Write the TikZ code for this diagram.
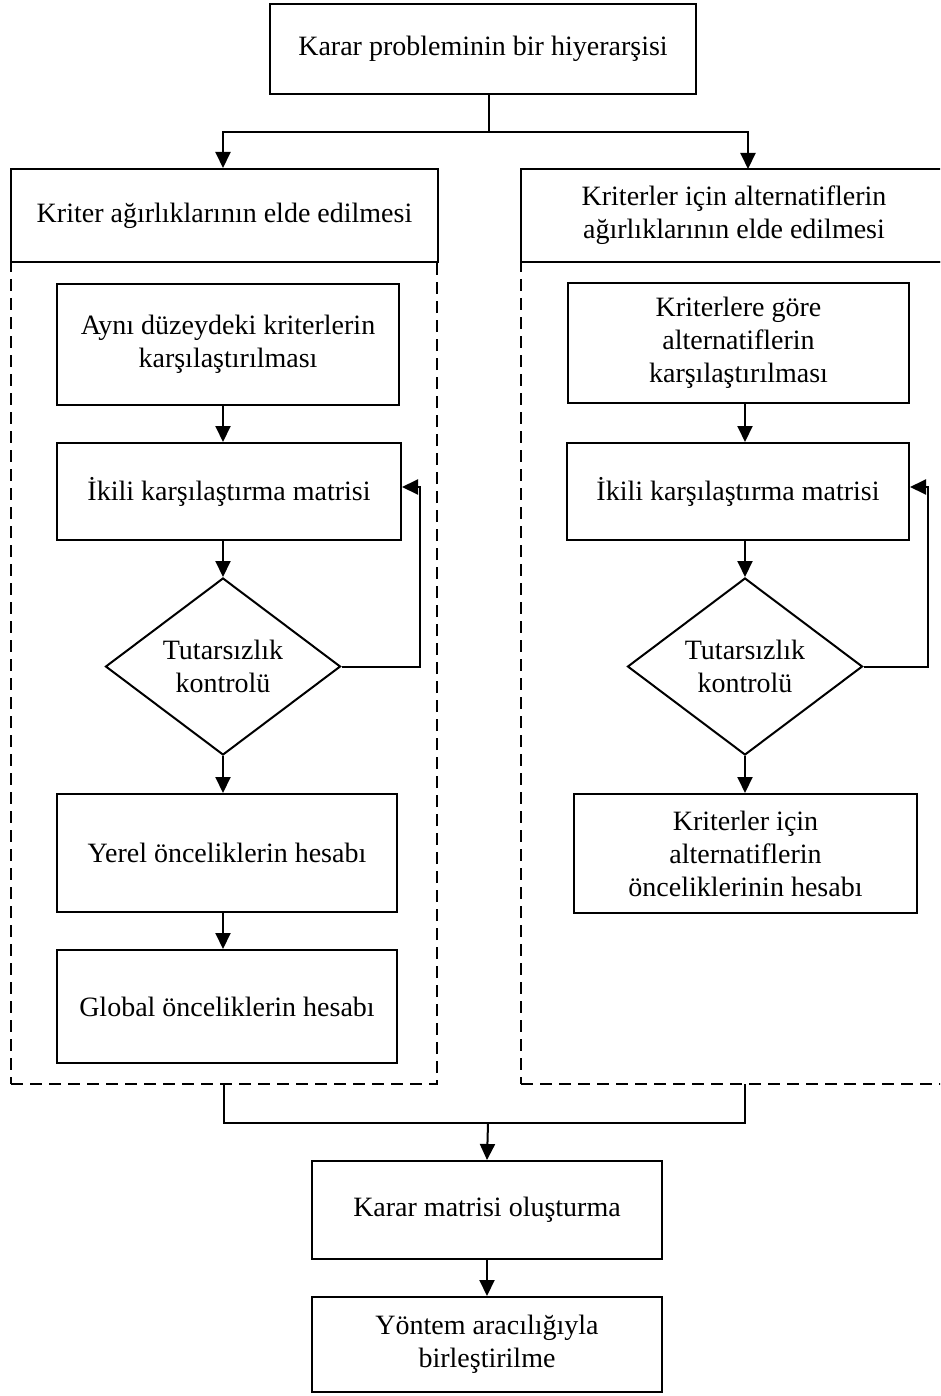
\documentclass[tikz,border=0pt]{standalone}
\usepackage{fontspec}
\setmainfont{Liberation Serif}
\usetikzlibrary{arrows.meta,shapes.geometric}

\tikzset{
  stepbox/.style={draw, line width=2pt, rectangle, inner sep=0pt, align=center,
    font=\fontsize{28}{33}\selectfont},
  region/.style={draw, line width=2pt, dash pattern=on 12pt off 7pt, rectangle, inner sep=0pt},
  decision/.style={draw, line width=2pt, diamond, shape aspect=1.33, inner sep=0pt,
    minimum width=235pt, minimum height=177pt, align=center,
    font=\fontsize{28}{33}\selectfont},
  link/.style={line width=2pt},
  arr/.style={line width=2pt, -{Triangle[length=16pt,width=15pt]}}
}

\begin{document}
\begin{tikzpicture}[x=1pt,y=-1pt]
\useasboundingbox (0,0) rectangle (940,1396);
\clip (0,0) rectangle (940,1396);

% top of the hierarchy
\node[stepbox, minimum width=426pt, minimum height=90pt] (top) at (483,49)
  {Karar probleminin bir hiyerarşisi};

% dashed working areas
\node[region, minimum width=426pt, minimum height=822pt] (regL) at (224,673) {};
\node[region, minimum width=426pt, minimum height=822pt] (regR) at (734,673) {};

% column headers
\node[stepbox, fill=white, minimum width=427pt, minimum height=93pt] (hdrL) at (224.5,215.5)
  {Kriter ağırlıklarının elde edilmesi};
\node[stepbox, fill=white, minimum width=426pt, minimum height=93pt] (hdrR) at (734,215.5)
  {Kriterler için alternatiflerin\\ağırlıklarının elde edilmesi};

% left column
\node[stepbox, minimum width=342pt, minimum height=121pt] (aL) at (228,344.5)
  {Aynı düzeydeki kriterlerin\\karşılaştırılması};
\node[stepbox, minimum width=344pt, minimum height=97pt] (iL) at (229,491.5)
  {İkili karşılaştırma matrisi};
\node[decision] (dL) at (223,666.5) {\raisebox{-6pt}{\parbox{150pt}{\centering Tutarsızlık\\kontrolü}}};
\node[stepbox, minimum width=340pt, minimum height=118pt] (yL) at (227,853)
  {Yerel önceliklerin hesabı};
\node[stepbox, minimum width=340pt, minimum height=113pt] (gL) at (227,1006.5)
  {Global önceliklerin hesabı};

% right column
\node[stepbox, minimum width=341pt, minimum height=120pt] (aR) at (738.5,343)
  {Kriterlere göre\\alternatiflerin\\karşılaştırılması};
\node[stepbox, minimum width=342pt, minimum height=97pt] (iR) at (738,491.5)
  {İkili karşılaştırma matrisi};
\node[decision] (dR) at (745,666.5) {\raisebox{-6pt}{\parbox{150pt}{\centering Tutarsızlık\\kontrolü}}};
\node[stepbox, minimum width=343pt, minimum height=119pt] (pR) at (745.5,853.5)
  {Kriterler için\\alternatiflerin\\önceliklerinin hesabı};

% final steps
\node[stepbox, minimum width=350pt, minimum height=98pt] (mK) at (487,1210)
  {Karar matrisi oluşturma};
\node[stepbox, minimum width=350pt, minimum height=95pt] (yB) at (487,1344.5)
  {Yöntem aracılığıyla\\birleştirilme};

% branching from the top box
\coordinate (tj) at (489,132);
\coordinate (hR) at (748,169);
\draw[link] (top.south -| tj) -- (tj);
\draw[arr] (tj) -| (dL.north |- hdrL.north);
\draw[arr] (tj) -| (hR);

% left column flow
\draw[arr] (aL.south -| dL.north) -- (iL.north -| dL.north);
\draw[arr] (iL.south -| dL.north) -- (dL.north);
\draw[arr] (dL.south) -- (yL.north -| dL.south);
\draw[arr] (yL.south -| dL.south) -- (gL.north -| dL.south);
\coordinate (fbL) at (420,487);
\draw[arr] (dL.east) -| (fbL) -- (fbL -| iL.east);

% right column flow
\draw[arr] (aR.south -| dR.north) -- (iR.north -| dR.north);
\draw[arr] (iR.south -| dR.north) -- (dR.north);
\draw[arr] (dR.south) -- (pR.north -| dR.south);
\coordinate (fbR) at (928,487);
\draw[arr] (dR.east) -| (fbR) -- (fbR -| iR.east);

% merging both areas
\coordinate (jn) at (488,1123);
\coordinate (jR) at (745,1084);
\draw[link] (regL.south) |- (jn) -| (jR);
\draw[arr] (jn) -- (mK.north);
\draw[arr] (mK.south) -- (yB.north);
\end{tikzpicture}
\end{document}
